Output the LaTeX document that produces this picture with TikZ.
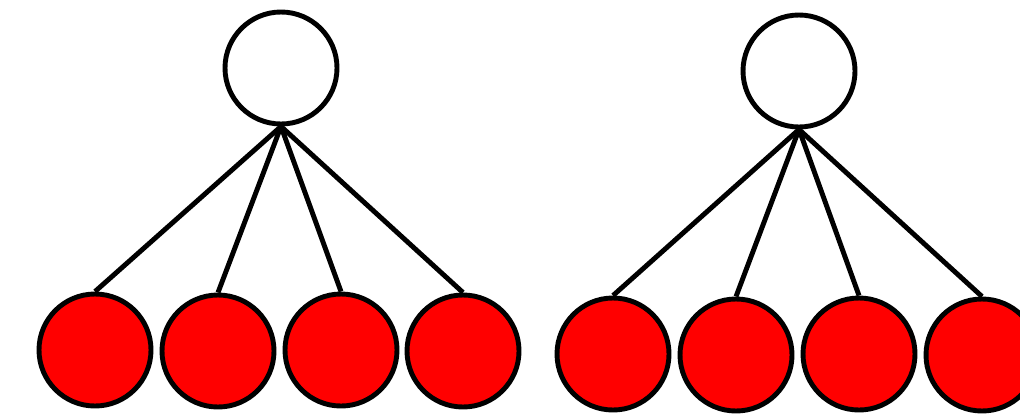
\documentclass[tikz,border=0pt]{standalone}
\usepackage{xcolor}
\usepackage{tikz}
\usetikzlibrary{positioning}

\begin{document}
\begin{tikzpicture}[scale=1.0,
  parent/.style={circle,draw,line width=1.4pt,fill=white,minimum size=1.12cm,inner sep=0pt},
  child/.style={circle,draw,line width=1.4pt,fill=red,minimum size=1.12cm,inner sep=0pt},
  link/.style={line width=1.4pt}]
  \useasboundingbox (0,0) rectangle (10.2,4.15);
  \clip (0,0) rectangle (10.2,4.15);
  % left tree
  \node[parent] (pa) at (2.81,3.47) {};
  \node[child] (a1) at (0.95,0.65) {};
  \node[child] (a2) at (2.18,0.64) {};
  \node[child] (a3) at (3.41,0.65) {};
  \node[child] (a4) at (4.63,0.64) {};
  \draw[link] (pa.south) -- (a1.north);
  \draw[link] (pa.south) -- (a2.north);
  \draw[link] (pa.south) -- (a3.north);
  \draw[link] (pa.south) -- (a4.north);
  % right tree
  \node[parent] (pb) at (7.99,3.44) {};
  \node[child] (b1) at (6.13,0.61) {};
  \node[child] (b2) at (7.36,0.60) {};
  \node[child] (b3) at (8.59,0.61) {};
  \node[child] (b4) at (9.82,0.60) {};
  \draw[link] (pb.south) -- (b1.north);
  \draw[link] (pb.south) -- (b2.north);
  \draw[link] (pb.south) -- (b3.north);
  \draw[link] (pb.south) -- (b4.north);
\end{tikzpicture}
\end{document}
